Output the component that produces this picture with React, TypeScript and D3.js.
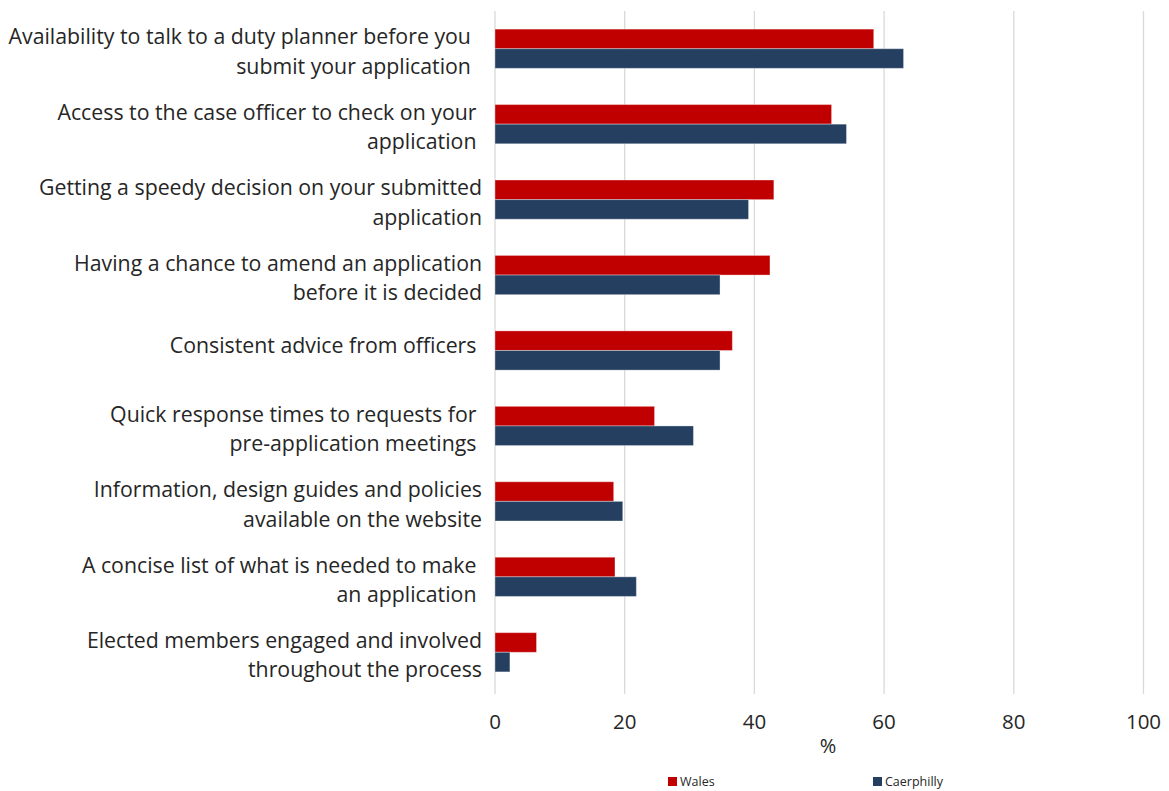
import React, { useEffect } from 'react';
import * as d3 from 'd3';

// categories, top to bottom (each entry = wrapped label lines)
const categories: string[][] = [
  ['Availability to talk to a duty planner before you\u00a0\u00a0', 'submit your application\u00a0\u00a0'],
  ['Access to the case officer to check on your\u00a0', 'application\u00a0'],
  ['Getting a speedy decision on your submitted', 'application'],
  ['Having a chance to amend an application', 'before it is decided'],
  ['Consistent advice from officers\u00a0'],
  ['Quick response times to requests for\u00a0', 'pre-application meetings\u00a0'],
  ['Information, design guides and policies', 'available on the website'],
  ['A concise list of what is needed to make\u00a0', 'an application\u00a0'],
  ['Elected members engaged and involved', 'throughout the process'],
];

const series = ['Wales', 'Caerphilly'];
const walesValues = [58.4, 51.9, 43.0, 42.4, 36.6, 24.6, 18.3, 18.5, 6.4];
const caerphillyValues = [63.0, 54.2, 39.1, 34.7, 34.7, 30.6, 19.7, 21.8, 2.3];
const xTicks = [0, 20, 40, 60, 80, 100];

const colors: Record<string, string> = { Wales: '#C00000', Caerphilly: '#243F60' };

const W = 1169;
const H = 791;
const FONT = '"Open Sans", Lato, sans-serif';

const App: React.FC = () => {
  useEffect(() => {
    document.body.style.margin = '0';
  }, []);

  const x = d3.scaleLinear().domain([0, 100]).range([495, 1143.5]);
  const keys = categories.map((_, i) => String(i));
  const y = d3.scaleBand<string>().domain(keys).range([11, 690]).paddingInner(0.48).paddingOuter(0.24);
  const ySub = d3.scaleBand<string>().domain(series).range([0, y.bandwidth()]);

  const values: Record<string, number[]> = { Wales: walesValues, Caerphilly: caerphillyValues };
  const lineH = 29.5;

  return (
    <svg width={W} height={H} style={{ display: 'block', background: '#fff' }} fontFamily={FONT}>
      {/* gridlines */}
      {xTicks.map((t) => (
        <line key={`g${t}`} x1={x(t)} x2={x(t)} y1={11} y2={694} stroke="#D9D9D9" strokeWidth={1.3} />
      ))}

      {/* bars */}
      {keys.map((k, i) => (
        <g key={k} transform={`translate(0,${y(k)})`}>
          {series.map((s) => (
            <rect
              key={s}
              x={x(0)}
              y={ySub(s)}
              width={x(values[s][i]) - x(0)}
              height={ySub.bandwidth()}
              fill={colors[s]}
              stroke="#fff"
              strokeOpacity={0.35}
              strokeWidth={1}
            />
          ))}
        </g>
      ))}

      {/* category labels */}
      {categories.map((lines, i) => {
        const shift = lines.length > 1 ? 3 : -5;
        const cy = (y(String(i)) ?? 0) + y.bandwidth() / 2 + shift;
        const first = cy - ((lines.length - 1) * lineH) / 2;
        return (
          <text key={i} x={482} textAnchor="end" fontSize={21.3} fill="#262626" style={{ whiteSpace: 'pre' }}>
            {lines.map((ln, j) => (
              <tspan key={j} x={482} y={first + j * lineH} dy="0.35em">
                {ln}
              </tspan>
            ))}
          </text>
        );
      })}

      {/* x tick labels */}
      {xTicks.map((t) => (
        <text key={`t${t}`} x={x(t)} y={722} dy="0.35em" textAnchor="middle" fontSize={20.5} fill="#262626">
          {t}
        </text>
      ))}
      <text x={828} y={746} dy="0.35em" textAnchor="middle" fontSize={20} fill="#262626">
        %
      </text>

      {/* legend */}
      {series.map((s, i) => {
        const lx = i === 0 ? 668 : 873;
        return (
          <g key={s} transform={`translate(${lx},782)`}>
            <rect x={0} y={-5} width={9} height={9} fill={colors[s]} />
            <text x={12} y={0} dy="0.35em" fontSize={12.5} fill="#262626">
              {s}
            </text>
          </g>
        );
      })}
    </svg>
  );
};

export default App;
